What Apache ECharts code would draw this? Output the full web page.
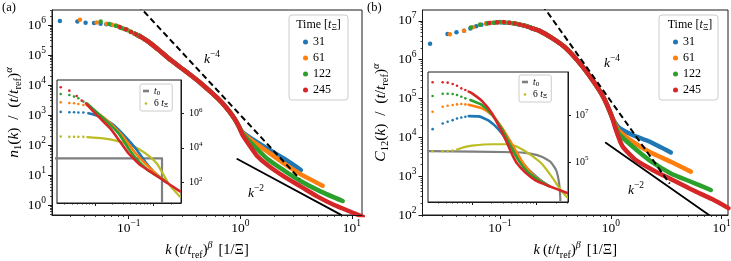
<!DOCTYPE html>
<html>
<head>
<meta charset="utf-8">
<script src="https://cdn.jsdelivr.net/npm/echarts@6.0.0/dist/echarts.min.js"></script>
<style>
html,body{margin:0;padding:0;background:#fff;}
#chart{width:731px;height:261px;}
</style>
</head>
<body>
<div id="chart"></div>
<script>
// ---------------- data ----------------
const TIMES = ['31', '61', '122', '245'];
const COLORS = ['#1f77b4', '#ff7f0e', '#2ca02c', '#d62728'];
const COLOR_T0 = '#7f7f7f';
const COLOR_6T = '#bcbd22';

const MAIN_X_TICKS = [0.1, 1, 10];
const A_Y_TICKS = [1, 10, 100, 1e3, 1e4, 1e5, 1e6];
const B_Y_TICKS = [1e2, 1e3, 1e4, 1e5, 1e6, 1e7];
const INSET_X_TICKS = [0.1, 1];
const AI_Y_TICKS = [1e2, 1e4, 1e6];
const BI_Y_TICKS = [1e5, 1e7];
const MINOR_SUBS = [2, 3, 4, 5, 6, 7, 8, 9];

// panel (a) main
const A_DOTS_31 = [[0.0242,1.35e6],[0.0347,1.3e6],[0.0411,1.2e6],[0.0489,1.16e6],[0.056,1.1e6],[0.063,1.06e6],[0.07,1.02e6],[0.077,9.4e5],[0.084,8.3e5],[0.091,7.4e5],[0.098,6.7e5],[0.105,5.9e5],[0.112,5.25e5],[0.119,4.67e5]];
const A_DOTS_61 = [[0.0366,1.5e6],[0.0516,1.22e6],[0.0635,1.1e6],[0.072,1.0e6],[0.08,9.0e5],[0.088,7.8e5],[0.096,6.9e5],[0.104,6.0e5],[0.112,5.25e5],[0.12,4.6e5]];
const A_DOTS_122 = [[0.0561,1.3e6],[0.067,1.08e6],[0.077,9.4e5],[0.086,8.0e5],[0.095,7.1e5],[0.104,6.0e5],[0.113,5.2e5],[0.122,4.5e5]];
const A_DOTS_245 = [[0.083,8.6e5],[0.094,7.2e5],[0.105,5.9e5],[0.116,4.9e5],[0.127,4.1e5]];
const A_CURVE = [[0.12,4.6e5],[0.128,4.07e5],[0.157,2.45e5],[0.194,1.29e5],[0.238,6.76e4],[0.313,3.16e4],[0.443,1.15e4],[0.625,3630],[0.75,1750],[0.879,800],[0.96,450]];
const A_TAIL_31 = [[1.047,270],[1.3,150],[1.75,75],[2.47,35],[3.49,14.7]];
const A_TAIL_61 = [[1.047,250],[1.3,130],[1.75,60],[2.47,24],[3.49,10.5],[5.46,4.4]];
const A_TAIL_122 = [[1.047,235],[1.3,100],[1.75,34],[2.47,14],[3.49,6.2],[5.27,2.8],[8.26,1.36]];
const A_TAIL_245 = [[1.047,215],[1.2,100],[1.4,45],[1.75,21.5],[2.47,8.8],[3.49,4.1],[4.92,1.9],[6.93,1.0],[10.5,0.53],[13,0.38]];
const A_POW4 = [[0.12,4.8e6],[3.4,7.5]];
const A_POW2 = [[0.94,34],[8.0,0.47]];

// panel (a) inset
const AI_DOTS_31 = [[0.0258,1.19e6],[0.0363,1.14e6],[0.0437,1.14e6],[0.0518,1.09e6],[0.0631,1.09e6]];
const AI_LINE_31 = [[0.0769,9.95e5],[0.122,6.4e5],[0.206,2.12e5],[0.349,3.6e4],[0.518,7.7e3],[0.721,1.63e3],[1.0,433],[1.39,156],[1.69,100]];
const AI_DOTS_61 = [[0.0258,4.28e6],[0.0363,3.92e6],[0.0437,3.76e6],[0.0518,3.44e6],[0.0631,3.0e6]];
const AI_LINE_61 = [[0.072,3.0e6],[0.158,4.1e5],[0.286,5.6e4],[0.442,7.7e3],[0.591,2.54e3],[0.877,673],[1.22,243],[1.58,131]];
const AI_DOTS_122 = [[0.0258,1.3e7],[0.0363,1.13e7],[0.0437,9.1e6],[0.0518,7.3e6],[0.0631,4.68e6]];
const AI_LINE_122 = [[0.0738,3.6e6],[0.139,5.1e5],[0.251,7.0e4],[0.388,7.7e3],[0.518,2.2e3],[0.791,540],[1.142,243],[1.485,143]];
const AI_DOTS_245 = [[0.0258,3.14e7],[0.0363,2.02e7],[0.0485,9.9e6],[0.0591,5.35e6]];
const AI_LINE_245 = [[0.0701,3.76e6],[0.107,8.0e5],[0.181,1.36e5],[0.268,2.32e4],[0.373,4.9e3],[0.454,2.5e3],[0.591,1.05e3],[0.877,433],[1.3,179],[1.93,73.6],[2.87,30.4]];
const AI_DOTS_6T = [[0.0258,4.5e4],[0.0363,4.3e4],[0.0437,4.3e4],[0.0518,4.3e4],[0.0631,4.3e4]];
const AI_LINE_6T = [[0.0738,4.14e4],[0.137,3.53e4],[0.238,2.53e4],[0.398,1.49e4],[0.591,7.7e3],[0.877,3.0e3],[1.156,1.2e3],[1.466,317],[1.93,64.6],[2.87,15]];
const AI_T0 = [[0.02,2480],[1.41,2480],[1.41,1]];

// panel (b) main
const B_DOTS_31 = [[0.0234,2.57e6],[0.0336,4.6e6],[0.0405,5.1e6],[0.0474,5.6e6],[0.054,6.4e6],[0.061,7.3e6],[0.068,8.0e6],[0.075,8.5e6],[0.082,8.8e6],[0.089,9.0e6],[0.096,9.1e6],[0.103,9.1e6],[0.11,9.0e6],[0.117,8.9e6],[0.124,8.8e6],[0.131,8.7e6],[0.138,8.5e6],[0.145,8.2e6],[0.152,8.0e6],[0.159,7.75e6],[0.166,7.55e6],[0.173,7.35e6],[0.18,7.05e6],[0.187,6.75e6]];
const B_DOTS_61 = [[0.0353,4.5e6],[0.0475,5.6e6],[0.057,6.9e6],[0.066,7.9e6],[0.075,8.5e6],[0.084,8.9e6],[0.093,9.1e6],[0.102,9.3e6],[0.111,9.1e6],[0.12,9.0e6],[0.129,8.7e6],[0.138,8.5e6],[0.147,8.2e6],[0.156,7.85e6],[0.165,7.6e6],[0.174,7.3e6],[0.183,7.0e6],[0.192,6.6e6]];
const B_DOTS_122 = [[0.0546,6.7e6],[0.066,7.9e6],[0.077,8.6e6],[0.088,9.0e6],[0.099,9.3e6],[0.11,9.1e6],[0.121,9.0e6],[0.132,8.7e6],[0.143,8.3e6],[0.154,8.0e6],[0.165,7.6e6],[0.176,7.2e6],[0.187,6.8e6]];
const B_DOTS_245 = [[0.08,8.8e6],[0.094,9.2e6],[0.108,9.3e6],[0.122,9.0e6],[0.136,8.6e6],[0.15,8.1e6],[0.164,7.6e6],[0.178,7.1e6],[0.192,6.6e6]];
const B_CURVE = [[0.19,6.6e6],[0.225,5.6e6],[0.298,3.55e6],[0.393,1.99e6],[0.556,6.6e5],[0.785,1.66e5],[0.88,9.3e4],[0.966,5.1e4],[1.03,3.2e4]];
const B_TAIL_31 = [[1.1,2.3e4],[1.19,1.75e4],[1.57,1.15e4],[2.22,7.8e3],[3.48,4.1e3]];
const B_TAIL_61 = [[1.1,2.1e4],[1.19,1.45e4],[1.57,7.8e3],[2.22,4.27e3],[3.48,2.35e3],[5.27,1.31e3]];
const B_TAIL_122 = [[1.1,1.95e4],[1.19,1.2e4],[1.57,5.8e3],[2.22,2.6e3],[3.48,1.18e3],[5.27,720],[7.98,440]];
const B_TAIL_245 = [[1.1,1.7e4],[1.27,6.0e3],[1.68,2.6e3],[2.38,1.45e3],[3.6,800],[5.46,440],[8.27,253],[11.5,150]];
const B_POW4 = [[0.24,2.6e7],[3.4,640]];
const B_POW2 = [[0.9,7.3e3],[8.1,90]];

// panel (b) inset
const BI_DOTS_31 = [[0.0245,2.51e6],[0.0351,4.4e6],[0.0419,5.18e6],[0.0501,6.1e6],[0.0585,7.2e6],[0.0682,7.94e6],[0.0787,8.47e6]];
const BI_LINE_31 = [[0.0887,9.06e6],[0.127,8.8e6],[0.181,5.8e6],[0.259,2.4e6],[0.37,6.5e5],[0.516,1.6e5],[0.72,5.2e4],[0.9,2.9e4],[1.146,1.64e4],[1.542,9.4e3]];
const BI_DOTS_61 = [[0.0245,1.39e7],[0.0351,2.28e7],[0.0419,2.51e7],[0.0501,2.68e7],[0.0585,2.86e7],[0.0682,2.96e7],[0.0787,2.86e7]];
const BI_LINE_61 = [[0.0887,2.77e7],[0.143,1.93e7],[0.204,1.0e7],[0.292,2.8e6],[0.417,5.5e5],[0.6,1.0e5],[0.8,3.7e4],[1.146,1.55e4],[1.542,9.4e3]];
const BI_DOTS_122 = [[0.0245,6.52e7],[0.0351,8.2e7],[0.0419,8.2e7],[0.0501,7.94e7],[0.0585,7.2e7],[0.0682,6.1e7],[0.0787,5.18e7]];
const BI_LINE_122 = [[0.0942,4.4e7],[0.143,2.68e7],[0.204,1.05e7],[0.292,2.4e6],[0.393,5.0e5],[0.52,1.2e5],[0.72,3.8e4],[1.079,1.64e4],[1.542,9.4e3]];
const BI_DOTS_245 = [[0.0245,2.51e8],[0.0351,2.51e8],[0.0419,2.43e8],[0.0501,2.13e8],[0.0585,1.8e8],[0.0682,1.39e8],[0.0787,1.18e8]];
const BI_LINE_245 = [[0.0887,1.0e8],[0.1,8.47e7],[0.143,3.98e7],[0.204,1.18e7],[0.275,2.5e6],[0.348,6.5e5],[0.42,2.0e5],[0.498,8.5e4],[0.67,3.49e4],[0.957,1.64e4],[1.542,9.4e3],[2.97,4.7e3]];
const BI_DOTS_6T = [[0.0245,2.87e5],[0.0351,2.87e5],[0.0419,2.9e5],[0.0501,3.1e5]];
const BI_LINE_6T = [[0.0585,3.4e5],[0.0787,4.4e5],[0.1,5.0e5],[0.204,5.7e5],[0.328,5.7e5],[0.43,5.2e5],[0.6,3.4e5],[0.85,1.8e5],[1.22,8e4],[1.74,2.2e4],[2.3,7e3],[2.97,3e3]];
const BI_T0 = [[0.021,2.9e5],[0.5,2.6e5],[0.8,2.25e5],[1.25,1.6e5],[1.65,1.0e5],[2.0,4.5e4],[2.2,1.5e4],[2.32,3e3],[2.35,500]];

// ---------------- styling helpers ----------------
const FF = "'Liberation Serif','DejaVu Serif',serif";
const INK = '#1a1a1a';

function richSet(base, small, lh) {
  return {
    r: {fontFamily: FF, fontSize: base, lineHeight: lh, color: '#000'},
    i: {fontFamily: FF, fontSize: base, lineHeight: lh, color: '#000', fontStyle: 'italic'},
    s: {fontFamily: FF, fontSize: small, lineHeight: small + 2, color: '#000', verticalAlign: 'top'},
    si: {fontFamily: FF, fontSize: small, lineHeight: small + 2, color: '#000', verticalAlign: 'top', fontStyle: 'italic'},
    d: {fontFamily: FF, fontSize: small, lineHeight: small + 4, color: '#000', verticalAlign: 'bottom'}
  };
}
const RICH_TICK = richSet(13.5, 9.5, 20);
const RICH_ITICK = richSet(10, 7, 14);
const RICH_TITLE = richSet(14.5, 10, 20);
const RICH_YTITLE = richSet(15.5, 10.5, 20);
const RICH_LEG = richSet(12, 8.5, 14);
const RICH_ILEG = richSet(9.5, 7, 10);
const RICH_LBL = richSet(13.5, 9.5, 20);
const RICH_PANEL = richSet(12.5, 9, 16);

function pow10(v) {
  const e = Math.round(Math.log10(v));
  return '{r|10}{s|' + (e < 0 ? '\u2212' + (-e) : e) + '}';
}
function minorTicks(e0, e1) {
  const out = [];
  for (let e = e0; e <= e1; e++) for (const s of MINOR_SUBS) out.push(+(s * Math.pow(10, e)).toPrecision(6));
  return out;
}

const A_XMIN = Math.pow(10, -1.687), A_XMAX = Math.pow(10, 1.09);
const A_YMIN = Math.pow(10, -0.333), A_YMAX = Math.pow(10, 6.5);
const B_XMIN = Math.pow(10, -1.699), B_XMAX = Math.pow(10, 1.057);
const B_YMIN = 100, B_YMAX = Math.pow(10, 7.28);
const AI_XMIN = Math.pow(10, -1.652), AI_XMAX = Math.pow(10, 0.475);
const AI_YMIN = Math.pow(10, 0.81), AI_YMAX = Math.pow(10, 7.92);
const BI_XMIN = Math.pow(10, -1.682), BI_XMAX = Math.pow(10, 0.485);
const BI_YMIN = Math.pow(10, 3.29), BI_YMAX = Math.pow(10, 8.84);

const X_TITLE = '{i|k} {r|(}{i|t}{r|/}{i|t}{d|ref}{r|)}{si|β}  {r|[1/Ξ]}';
const YA_TITLE = '{i|n}{d|1}{r|(}{i|k}{r|)  /  (}{i|t}{r|/}{i|t}{d|ref}{r|)}{si|α}';
const YB_TITLE = '{i|C}{d|12}{r|(}{i|k}{r|)  /  (}{i|t}{r|/}{i|t}{d|ref}{r|)}{si|α}';

function majorAxis(dim, gi, min, max, ticks, o) {
  o = o || {};
  const ax = {
    gridIndex: gi, type: 'log', logBase: 10, min: min, max: max,
    position: o.position, z: o.z || 5,
    axisLine: {show: true, onZero: false, lineStyle: {color: INK, width: 1}},
    axisTick: {show: true, inside: false, customValues: ticks, length: o.tickLen || 4, lineStyle: {color: INK, width: 1}},
    axisLabel: {show: !!o.labels, customValues: ticks, formatter: pow10, margin: o.margin || 5, rich: o.rich || RICH_TICK},
    splitLine: {show: false}, minorTick: {show: false}, minorSplitLine: {show: false},
    nameMoveOverlap: false
  };
  if (o.name) {
    ax.name = o.name; ax.nameLocation = 'middle'; ax.nameGap = o.nameGap;
    ax.nameRotate = o.nameRotate; ax.nameTextStyle = {rich: o.nameRich || RICH_TITLE};
  }
  return ax;
}
function minorAxis(gi, min, max, ticks, pos, len, z) {
  return {
    gridIndex: gi, type: 'log', logBase: 10, min: min, max: max, position: pos, z: z || 5,
    axisLine: {show: false, onZero: false},
    axisTick: {show: true, inside: false, customValues: ticks, length: len, lineStyle: {color: INK, width: 0.8}},
    axisLabel: {show: false}, splitLine: {show: false}, minorTick: {show: false}
  };
}

const xAxis = [
  majorAxis('x', 0, A_XMIN, A_XMAX, MAIN_X_TICKS, {position: 'bottom', labels: true, margin: 3, name: X_TITLE, nameGap: 25}),
  minorAxis(0, A_XMIN, A_XMAX, minorTicks(-2, 1), 'bottom', 2),
  majorAxis('x', 1, AI_XMIN, AI_XMAX, INSET_X_TICKS, {position: 'bottom', labels: false, tickLen: 3, z: 15}),
  minorAxis(1, AI_XMIN, AI_XMAX, minorTicks(-2, 0), 'bottom', 1.6, 15),
  majorAxis('x', 2, B_XMIN, B_XMAX, MAIN_X_TICKS, {position: 'bottom', labels: true, margin: 3, name: X_TITLE, nameGap: 25}),
  minorAxis(2, B_XMIN, B_XMAX, minorTicks(-2, 1), 'bottom', 2),
  majorAxis('x', 3, BI_XMIN, BI_XMAX, INSET_X_TICKS, {position: 'bottom', labels: false, tickLen: 3, z: 15}),
  minorAxis(3, BI_XMIN, BI_XMAX, minorTicks(-2, 0), 'bottom', 1.6, 15)
];
const yAxis = [
  majorAxis('y', 0, A_YMIN, A_YMAX, A_Y_TICKS, {position: 'left', labels: true, margin: 6, name: YA_TITLE, nameGap: 28.5, nameRotate: 90, nameRich: RICH_YTITLE}),
  minorAxis(0, A_YMIN, A_YMAX, minorTicks(-1, 6), 'left', 2),
  majorAxis('y', 1, AI_YMIN, AI_YMAX, AI_Y_TICKS, {position: 'right', labels: true, tickLen: 3, margin: 8, rich: RICH_ITICK, z: 15}),
  majorAxis('y', 2, B_YMIN, B_YMAX, B_Y_TICKS, {position: 'left', labels: true, margin: 6, name: YB_TITLE, nameGap: 31.5, nameRotate: 90, nameRich: RICH_YTITLE}),
  minorAxis(2, B_YMIN, B_YMAX, minorTicks(2, 7), 'left', 2),
  majorAxis('y', 3, BI_YMIN, BI_YMAX, BI_Y_TICKS, {position: 'right', labels: true, tickLen: 3, margin: 7, rich: RICH_ITICK, z: 15})
];

function gridBox(l, t, w, h, z) {
  return {left: l, top: t, width: w, height: h, show: true, backgroundColor: '#fff',
          borderColor: INK, borderWidth: 1, z: z, containLabel: false, outerBoundsMode: 'none'};
}
const grid = [
  gridBox(52, 10, 310, 205, 0),
  gridBox(57, 80, 124, 123, 10),
  gridBox(422.5, 10, 305.5, 205, 0),
  gridBox(428, 72, 140, 130, 10)
];

function dots(name, data, xi, yi, size, color, z) {
  return {type: 'scatter', name: name, data: data, xAxisIndex: xi, yAxisIndex: yi,
          symbol: 'circle', symbolSize: size, itemStyle: {color: color, opacity: 1},
          z: z, silent: true, animation: false};
}
function curve(name, data, xi, yi, width, color, z, extra) {
  return Object.assign({type: 'line', name: name, data: data, xAxisIndex: xi, yAxisIndex: yi,
          showSymbol: false, symbol: 'none', smooth: 0.2, clip: true,
          itemStyle: {color: color}, lineStyle: {color: color, width: width, cap: 'round', join: 'round'},
          z: z, silent: true, animation: false}, extra || {});
}

const A_DOTS = [A_DOTS_31, A_DOTS_61, A_DOTS_122, A_DOTS_245];
const A_TAILS = [A_TAIL_31, A_TAIL_61, A_TAIL_122, A_TAIL_245];
const B_DOTS = [B_DOTS_31, B_DOTS_61, B_DOTS_122, B_DOTS_245];
const B_TAILS = [B_TAIL_31, B_TAIL_61, B_TAIL_122, B_TAIL_245];
const AI_DOTS = [AI_DOTS_31, AI_DOTS_61, AI_DOTS_122, AI_DOTS_245];
const AI_LINES = [AI_LINE_31, AI_LINE_61, AI_LINE_122, AI_LINE_245];
const BI_DOTS = [BI_DOTS_31, BI_DOTS_61, BI_DOTS_122, BI_DOTS_245];
const BI_LINES = [BI_LINE_31, BI_LINE_61, BI_LINE_122, BI_LINE_245];

const series = [];
TIMES.forEach((t, i) => {
  series.push(dots(t, A_DOTS[i], 0, 0, 4.5, COLORS[i], 3));
  series.push(curve(t, A_CURVE.concat(A_TAILS[i]), 0, 0, 4.5, COLORS[i], 3));
});
series.push(curve('k4a', A_POW4, 0, 0, 2, '#000', 4, {smooth: false, lineStyle: {color: '#000', width: 2, type: [6, 3.5]}}));
series.push(curve('k2a', A_POW2, 0, 0, 1.8, '#000', 4, {smooth: false}));
TIMES.forEach((t, i) => {
  series.push(dots(t, B_DOTS[i], 4, 3, 4.5, COLORS[i], 3));
  series.push(curve(t, B_CURVE.concat(B_TAILS[i]), 4, 3, 4.5, COLORS[i], 3));
});
series.push(curve('k4b', B_POW4, 4, 3, 2, '#000', 4, {smooth: false, lineStyle: {color: '#000', width: 2, type: [6, 3.5]}}));
series.push(curve('k2b', B_POW2, 4, 3, 1.8, '#000', 4, {smooth: false}));

// insets
series.push(curve('t0', AI_T0, 2, 2, 2.2, COLOR_T0, 12, {smooth: false}));
series.push(dots('6t', AI_DOTS_6T, 2, 2, 2.6, COLOR_6T, 12));
series.push(curve('6t', AI_LINE_6T, 2, 2, 2.2, COLOR_6T, 12));
series.push(curve('t0', BI_T0, 6, 5, 2.2, COLOR_T0, 12, {smooth: 0.1}));
series.push(dots('6t', BI_DOTS_6T, 6, 5, 2.6, COLOR_6T, 12));
series.push(curve('6t', BI_LINE_6T, 6, 5, 2.2, COLOR_6T, 12));
TIMES.forEach((t, i) => {
  series.push(dots(t, AI_DOTS[i], 2, 2, 2.6, COLORS[i], 13));
  series.push(curve(t, AI_LINES[i], 2, 2, 2.6, COLORS[i], 13));
  series.push(dots(t, BI_DOTS[i], 6, 5, 2.6, COLORS[i], 13));
  series.push(curve(t, BI_LINES[i], 6, 5, 2.6, COLORS[i], 13));
});

function mainLegend(left) {
  return {
    orient: 'vertical', left: left, top: 15, z: 20, selectedMode: false,
    data: TIMES.map(t => ({name: t, icon: 'circle'})),
    itemWidth: 5, itemHeight: 5, itemGap: 4,
    padding: [21, 17, 4, 14],
    backgroundColor: 'rgba(255,255,255,0.85)', borderColor: '#cccccc', borderWidth: 1, borderRadius: 3,
    textStyle: {fontFamily: FF, fontSize: 12, lineHeight: 12, color: '#000'}
  };
}
function insetLegend(left, top) {
  return {
    orient: 'vertical', left: left, top: top, z: 30, selectedMode: false,
    data: [{name: 't0', icon: 'rect'}, {name: '6t', icon: 'circle'}],
    itemWidth: 6, itemHeight: 2.6, itemGap: 2,
    padding: [2, 4, 2, 3],
    backgroundColor: 'rgba(255,255,255,0.85)', borderColor: '#cccccc', borderWidth: 1, borderRadius: 2,
    formatter: n => n === 't0' ? '{i|t}{d|0}' : '{r|6 }{i|t}{d|Ξ}',
    textStyle: {fontFamily: FF, fontSize: 9.5, color: '#000', rich: RICH_ILEG}
  };
}

function txt(x, y, text, rich, align) {
  return {type: 'text', x: x, y: y, z: 50, silent: true,
          style: {text: text, rich: rich, fontFamily: FF, fontSize: 12, fill: '#000',
                  align: align || 'left', verticalAlign: 'middle',
                  textAlign: align || 'left', textVerticalAlign: 'middle'}};
}
const graphic = [
  txt(2, 8, '{r|(a)}', RICH_PANEL),
  txt(367, 8, '{r|(b)}', RICH_PANEL),
  txt(204, 59, '{i|k}{s|\u22124}', RICH_LBL),
  txt(248, 193, '{i|k}{s|\u22122}', RICH_LBL),
  txt(604, 63, '{i|k}{s|\u22124}', RICH_LBL),
  txt(628, 190, '{i|k}{s|\u22122}', RICH_LBL),
  txt(318.5, 25, '{r|Time [}{i|t}{d|Ξ}{r|]}', RICH_LEG, 'center'),
  txt(690, 25, '{r|Time [}{i|t}{d|Ξ}{r|]}', RICH_LEG, 'center')
];

const option = {
  animation: false,
  backgroundColor: '#fff',
  textStyle: {fontFamily: FF},
  grid: grid,
  xAxis: xAxis,
  yAxis: yAxis,
  legend: [mainLegend(289), mainLegend(659), insetLegend(140, 84), insetLegend(519, 75)],
  series: series,
  graphic: graphic
};

const chart = echarts.init(document.getElementById('chart'), null, {renderer: 'canvas', width: 731, height: 261});
chart.setOption(option);
</script>
</body>
</html>
